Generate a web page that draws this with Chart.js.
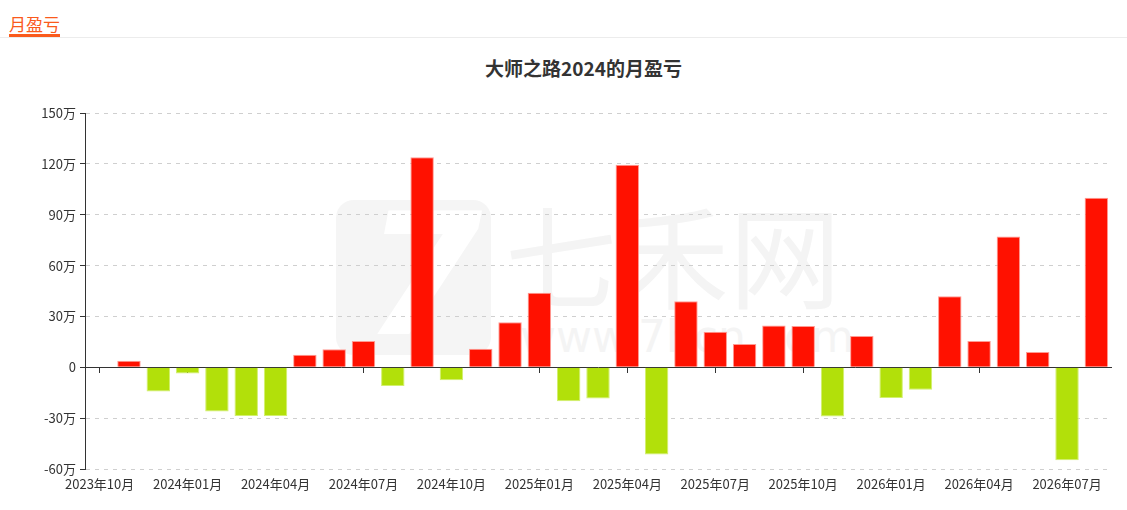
<!DOCTYPE html>
<html>
<head>
<meta charset="utf-8">
<title>月盈亏</title>
<script src="https://cdn.jsdelivr.net/npm/chart.js@4/dist/chart.umd.min.js"></script>
<style>
  html, body { margin: 0; padding: 0; background: #fff; }
  body { width: 1127px; height: 510px; position: relative; overflow: hidden;
         font-family: "Noto Sans CJK SC", "Noto Sans", sans-serif; }
  .head { position: absolute; left: 0; top: 0; width: 1127px; height: 37px; border-bottom: 1px solid #ececec; }
  .head span { position: absolute; left: 9px; top: 13px; font-size: 17px; line-height: 21px;
               color: #fa5a1c; border-bottom: 3px solid #fa5a1c; padding-bottom: 0; }
  .title { position: absolute; left: 40px; top: 56px; width: 1087px; text-align: center;
           font-size: 19px; line-height: 24px; font-weight: bold; color: #333; }
  .wm { position: absolute; color: #f4f4f4; white-space: nowrap; }
  .logo { position: absolute; left: 336px; top: 200px; width: 155px; height: 155px;
          background: #f5f5f5; border-radius: 18px; }
  .logo b { position: absolute; left: 28px; top: -20px; font-size: 170px; line-height: 190px;
            color: #fff; font-family: "DejaVu Sans", sans-serif; font-style: italic; }
  canvas { position: absolute; left: 0; top: 0; }
</style>
</head>
<body>
<div class="logo"><b>7</b></div>
<div class="wm" style="left:505px; top:182px; font-size:112px; line-height:140px;">七禾网</div>
<div class="wm" style="left:520px; top:312px; font-size:44px; line-height:50px; font-family:'DejaVu Sans',sans-serif;">www.7hcn.com</div>
<div class="head"><span>月盈亏</span></div>
<div class="title">大师之路2024的月盈亏</div>
<canvas id="chart1" width="1127" height="510"></canvas>
<script>
// 月份
const months = [
  "2023年10月", "2023年11月", "2023年12月",
  "2024年01月", "2024年02月", "2024年03月", "2024年04月", "2024年05月", "2024年06月",
  "2024年07月", "2024年08月", "2024年09月", "2024年10月", "2024年11月", "2024年12月",
  "2025年01月", "2025年02月", "2025年03月", "2025年04月", "2025年05月", "2025年06月",
  "2025年07月", "2025年08月", "2025年09月", "2025年10月", "2025年11月", "2025年12月",
  "2026年01月", "2026年02月", "2026年03月", "2026年04月", "2026年05月", "2026年06月",
  "2026年07月", "2026年08月"
];

// 月盈亏 (万)
const profit = [
  null, 3.9, -14.3,
  -3.7, -26.1, -28.8, -28.8, 7.4, 10.6,
  15.5, -11, 123.9, -7.6, 10.9, 26.5,
  43.9, -20, -18.4, 119.4, -51.4, 39,
  20.9, 13.7, 24.7, 24.3, -29, 18.4,
  -18.1, -13.2, 41.9, 15.5, 77.2, 9.0,
  -54.9, 100
];

const yTicks = [-60, -30, 0, 30, 60, 90, 120, 150];

const upColor = "#ff1100";
const downColor = "#b2e00a";

const barColors = profit.map(v => (v != null && v < 0) ? downColor : upColor);
const barBorders = profit.map(v => (v != null && v < 0) ? "#d2ef6e" : "#ff9b93");

const labelFont = { size: 13, family: "'Noto Sans CJK SC', sans-serif" };

const data = {
  labels: months,
  datasets: [
    {
      label: "月盈亏",
      data: profit,
      backgroundColor: barColors,
      borderColor: barBorders,
      borderWidth: 1,
      categoryPercentage: 1,
      barPercentage: 0.8,
      xAxisID: "x",
    },
  ]
};

const config = {
  type: "bar",
  data: data,
  options: {
    responsive: false,
    animation: false,
    layout: { padding: { left: 0, right: 16, top: 113, bottom: 0 } },
    plugins: {
      legend: { display: false },
      tooltip: { enabled: false },
      title: { display: false },
    },
    scales: {
      x: {
        type: "category",
        position: "bottom",
        border: { display: false },
        grid: { display: false, drawTicks: false },
        afterFit: (scale) => { scale.height = 41; },
        ticks: {
          autoSkip: false,
          maxRotation: 0,
          padding: 7,
          color: "#333",
          font: labelFont,
          callback: function (value, index) {
            return index % 3 === 0 ? this.getLabelForValue(value) : "";
          },
        },
      },
      x0: {
        type: "category",
        position: { y: 0 },
        offset: true,
        ticks: { display: false },
        border: { display: true, color: "#333", width: 1 },
        grid: {
          offset: false,
          drawOnChartArea: false,
          drawTicks: true,
          tickLength: 5,
          tickWidth: 1,
          tickColor: (ctx) => (ctx.index % 3 === 0 ? "#333" : "rgba(0,0,0,0)"),
        },
      },
      y: {
        min: -60,
        max: 150,
        afterFit: (scale) => { scale.width = 85; },
        afterBuildTicks: (scale) => { scale.ticks = yTicks.map(v => ({ value: v })); },
        border: {
          display: true,
          color: "#333",
          width: 1,
          dash: (ctx) => (ctx.tick && ctx.tick.value === 0 ? [] : [4, 5]),
        },
        grid: {
          color: (ctx) => (ctx.tick && ctx.tick.value === 0 ? "rgba(0,0,0,0)" : "#cfcfcf"),
          tickColor: "#333",
          tickLength: 5,
          drawTicks: true,
        },
        ticks: {
          padding: 4,
          color: "#333",
          font: labelFont,
          callback: (v) => (v === 0 ? "0" : v + "万"),
        },
      },
    },
  }
};

const myChart1 = new Chart(document.getElementById("chart1"), config);
</script>
</body>
</html>
